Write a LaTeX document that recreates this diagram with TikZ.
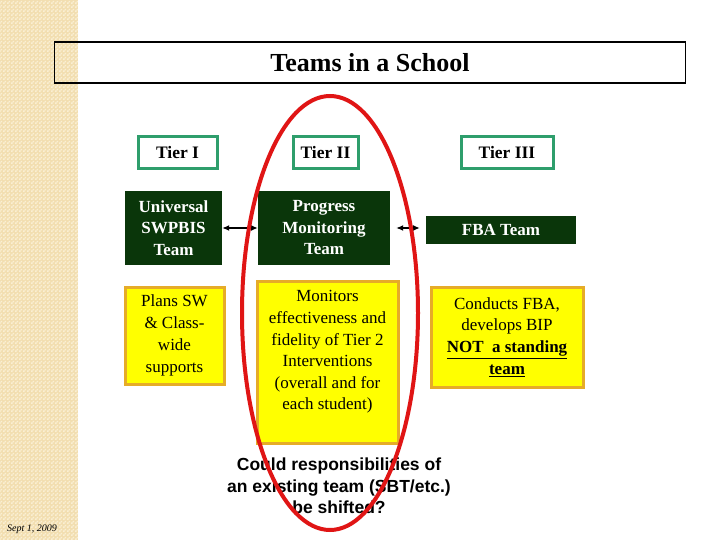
\documentclass[tikz,border=0pt]{standalone}
\usepackage{fontspec}
\setmainfont{Liberation Serif}
\newfontfamily\arialfont{Liberation Sans}
\usetikzlibrary{patterns,arrows.meta}
\pgfdeclarepatternformonly{finechk}{\pgfpointorigin}{\pgfpoint{4pt}{4pt}}{\pgfpoint{4pt}{4pt}}{%
  \pgfpathrectangle{\pgfpointorigin}{\pgfpoint{2pt}{2pt}}%
  \pgfpathrectangle{\pgfpoint{2pt}{2pt}}{\pgfpoint{2pt}{2pt}}%
  \pgfusepath{fill}}
\definecolor{stripbg}{HTML}{F2DEB0}
\definecolor{stripchk}{HTML}{FAEFD4}
\definecolor{tiergreen}{HTML}{2E9E6C}
\definecolor{darkgreen}{HTML}{0A360A}
\definecolor{boxyellow}{HTML}{FFFF00}
\definecolor{boxorange}{HTML}{E6AC28}
\definecolor{ovalred}{HTML}{E01515}
\tikzset{
  tierbox/.style={draw=tiergreen,line width=3pt,fill=white,inner sep=0pt,
    font=\fontsize{17.5}{20}\selectfont\bfseries},
  teambox/.style={fill=darkgreen,text=white,inner sep=0pt,align=center,
    font=\fontsize{17}{21.5}\selectfont\bfseries},
  taskbox/.style={draw=boxorange,line width=3pt,fill=boxyellow,inner sep=0pt,align=center,
    font=\fontsize{17}{21.8}\selectfont},
  linkarrow/.style={{Latex[length=7pt,width=6pt]}-{Latex[length=7pt,width=6pt]},line width=1.2pt},
}
\begin{document}
\begin{tikzpicture}[x=1pt,y=-1pt]
\useasboundingbox (0,0) rectangle (720,540);
\fill[white] (0,0) rectangle (720,540);
\fill[stripbg] (0,0) rectangle (78,540);
\fill[pattern=finechk,pattern color=stripchk] (0,0) rectangle (78,540);
% title
\node[draw=black,line width=1.2pt,minimum width=631pt,minimum height=41pt,inner sep=0pt,
  font=\fontsize{26}{30}\selectfont\bfseries] (title) at (370,62.5) {Teams in a School};
% tiers
\node[tierbox,minimum width=79pt,minimum height=32pt] (t1) at (177.5,153) {Tier I};
\node[tierbox,minimum width=65pt,minimum height=32pt] (t2) at (325.5,153) {Tier II};
\node[tierbox,minimum width=92pt,minimum height=32pt] (t3) at (507,153) {Tier III};
% teams
\node[teambox,minimum width=97pt,minimum height=74pt] (uni) at (173.5,228) {Universal\\SWPBIS\\Team};
\node[teambox,minimum width=132pt,minimum height=74pt] (prog) at (324,228) {Progress\\Monitoring\\Team};
\node[teambox,minimum width=150pt,minimum height=28pt] (fba) at (501,230) {FBA Team};
% tasks
\node[taskbox,minimum width=99pt,minimum height=97pt] (plans) at (174.5,335.5) {Plans SW\\\& Class-\\wide\\supports};
\node[taskbox,minimum width=141pt,minimum height=162pt] (mon) at (327.5,362) {};
\node[align=center,inner sep=0pt,font=\fontsize{17}{21.6}\selectfont,anchor=center] (montext) at (327.5,352)
  {Monitors\\effectiveness and\\fidelity of Tier 2\\Interventions\\(overall and for\\each student)};
\node[taskbox,minimum width=152pt,minimum height=100pt] (fbatask) at (507,337)
  {Conducts FBA,\\develops BIP\\\textbf{\underline{NOT\ \ a standing}}\\\textbf{\underline{team}}};
% arrows
\draw[linkarrow] (uni.east) -- (prog.west);
\draw[linkarrow,shorten <=6pt,shorten >=6pt] (prog.east) -- (prog.east -| fba.west);
% question
\node[align=center,inner sep=0pt,font=\arialfont\fontsize{17.5}{21.5}\selectfont\bfseries] (q) at (339,486)
  {Could responsibilities of\\an existing team (SBT/etc.)\\be shifted?};
% date
\node[inner sep=0pt,anchor=west,font=\fontsize{10}{12}\selectfont\itshape] (date) at (7,529) {Sept 1, 2009};
% oval
\draw[ovalred,line width=4pt] (330,313) ellipse [x radius=88, y radius=217];
\end{tikzpicture}
\end{document}
